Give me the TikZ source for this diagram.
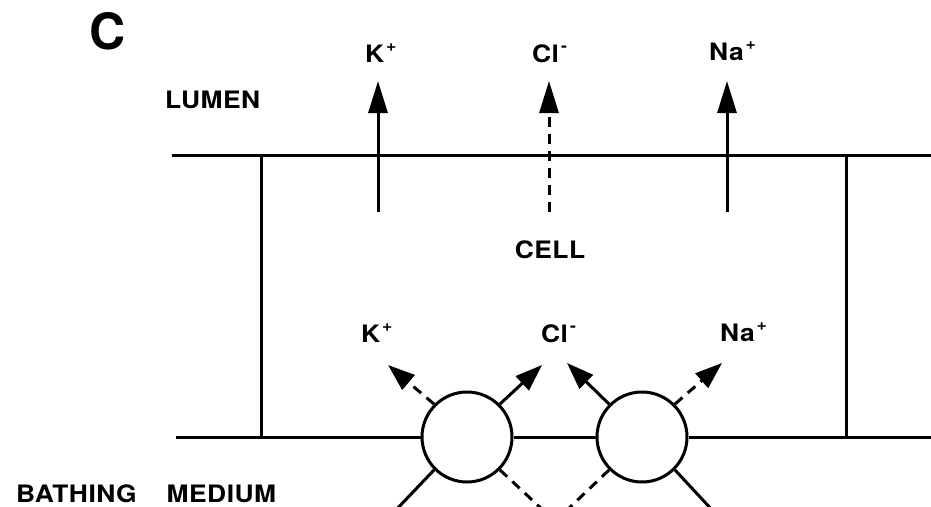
\documentclass[tikz,border=0pt]{standalone}
\usepackage{fontspec}
\setmainfont{TeX Gyre Heros}
\newfontfamily\labfont{TeX Gyre Heros}[FakeStretch=1.1,LetterSpace=2]
\usetikzlibrary{arrows.meta}
\newcommand\ionup[1]{\hspace{0.08em}\raisebox{0.42em}{\fontsize{16}{16}\selectfont #1}}
\begin{document}
\begin{tikzpicture}[x=1pt,y=-1pt,
  mem/.style={line width=3pt},
  lab/.style={font=\labfont\bfseries\fontsize{24}{24}\selectfont, inner sep=0pt},
  uparr/.style={line width=3pt,-{Triangle[length=32pt,width=19pt]}},
  dnarr/.style={line width=3pt,-{Triangle[length=27pt,width=19pt]}},
  dsh/.style={dash pattern=on 10pt off 7pt},
  pump/.style={circle,draw,line width=3pt,minimum size=90pt,inner sep=0pt,fill=white}]
\useasboundingbox (0,0) rectangle (931,506);
\clip (0,0) rectangle (931,506);
% membranes
\coordinate (tl) at (172,155);
\coordinate (tr) at (935,155);
\coordinate (bl) at (176,437);
\coordinate (br) at (935,437);
\node[pump] (c1) at (467,437) {};
\node[pump] (c2) at (642,437) {};
\draw[mem] (tl) -- (tr);
\draw[mem] (bl) -- (c1.west);
\draw[mem] (c1.east) -- (c2.west);
\draw[mem] (c2.east) -- (br);
\coordinate (lvt) at (261,155);
\coordinate (lvb) at (261,437);
\coordinate (rvt) at (846,155);
\coordinate (rvb) at (846,437);
\draw[mem] (lvt) -- (lvb);
\draw[mem] (rvt) -- (rvb);
% apical arrows
\coordinate (ks) at (378,212); \coordinate (kt) at (378,81);
\coordinate (cs) at (549,212); \coordinate (ct) at (549,81);
\coordinate (ns) at (727,212); \coordinate (nt) at (727,81);
\draw[uparr] (ks) -- (kt);
\draw[uparr,dsh] (cs) -- (ct);
\draw[uparr] (ns) -- (nt);
% basolateral arrows
\coordinate (k2t) at (388,365);
\coordinate (c2t) at (542,365);
\coordinate (c3t) at (567,363);
\coordinate (n2t) at (722,363);
\draw[dnarr,dsh] (c1.135) -- (k2t);
\draw[dnarr] (c1.45) -- (c2t);
\draw[dnarr] (c2.135) -- (c3t);
\draw[dnarr,dsh] (c2.45) -- (n2t);
\coordinate (e1) at (394,512);
\coordinate (e2) at (545,512);
\coordinate (e3) at (565,512);
\coordinate (e4) at (714,512);
\draw[line width=3pt] (c1.225) -- (e1);
\draw[line width=3pt,dsh] (c1.315) -- (e2);
\draw[line width=3pt,dsh] (c2.225) -- (e3);
\draw[line width=3pt] (c2.315) -- (e4);
% labels
\node[font=\bfseries\fontsize{50}{50}\selectfont, inner sep=0pt, anchor=base west] (C) at (89,49) {C};
\node[lab, anchor=base west] (lumen) at (165,108) {LUMEN};
\node[lab, anchor=base] (cell) at (550,258) {CELL};
\node[lab, anchor=base west] (bath) at (16,502) {BATHING\hspace{1.25em}MEDIUM};
\node[lab, anchor=base west] (k1) at (365,62) {K\ionup{+}};
\node[lab, anchor=base west] (cl1) at (532,62) {Cl\ionup{-}};
\node[lab, anchor=base west] (na1) at (709,60) {Na\ionup{+}};
\node[lab, anchor=base west] (k2) at (361,342) {K\ionup{+}};
\node[lab, anchor=base west] (cl2) at (541,342) {Cl\ionup{-}};
\node[lab, anchor=base west] (na2) at (720,341) {Na\ionup{+}};
\end{tikzpicture}
\end{document}
